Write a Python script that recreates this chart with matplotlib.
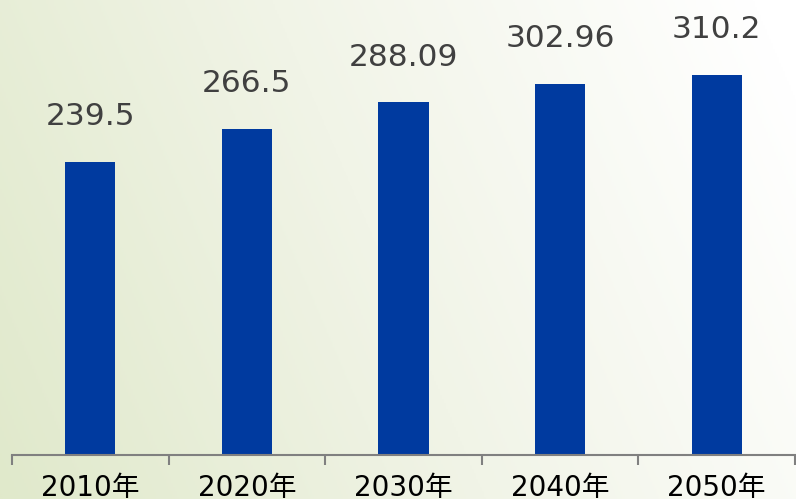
import numpy as np
import matplotlib
matplotlib.use("Agg")
import matplotlib.pyplot as plt
from matplotlib.colors import LinearSegmentedColormap

years = ["2010年", "2020年", "2030年", "2040年", "2050年"]
values = [239.5, 266.5, 288.09, 302.96, 310.2]
value_labels = ["239.5", "266.5", "288.09", "302.96", "310.2"]

fig = plt.figure(figsize=(7.96, 4.99), dpi=100)

# background gradient (greenish at left -> white at top right)
bg = fig.add_axes([0, 0, 1, 1], zorder=0)
u = np.linspace(0, 1, 400)
v = np.linspace(1, 0, 250)
U, V = np.meshgrid(u, v)
t = np.clip(0.82 * U + 0.22 * V, 0, 1)
cmap = LinearSegmentedColormap.from_list("bg", ["#e0e9cb", "#f1f4e7", "#ffffff"])
bg.imshow(t, cmap=cmap, aspect="auto", extent=[0, 1, 0, 1], vmin=0, vmax=1)
bg.axis("off")

ax = fig.add_axes([12 / 796, 44 / 499, 783 / 796, 455 / 499], zorder=1)
ax.patch.set_alpha(0)

x = np.arange(len(years))
ax.bar(x, values, width=0.32, color="#003a9f")
ax.set_xlim(-0.5, len(years) - 0.5)
ax.set_ylim(0, 371.7)

for xi, val, lab in zip(x, values, value_labels):
    ax.annotate(lab, (xi, val), xytext=(0, 26.5), textcoords="offset points",
                ha="center", va="baseline", fontsize=22.5, color="#404040",
                family=["DejaVu Sans"])

for s in ["top", "right", "left"]:
    ax.spines[s].set_visible(False)
ax.spines["bottom"].set_color("#808080")
ax.spines["bottom"].set_linewidth(1.5)
ax.set_yticks([])

ax.set_xticks(np.arange(-0.5, len(years), 1.0))
ax.set_xticklabels([])
ax.tick_params(axis="x", which="major", direction="out", length=7, width=1.5, color="#808080")
ax.set_xticks(x, minor=True)
ax.set_xticklabels(years, minor=True, fontsize=20, color="black",
                   family=["DejaVu Sans", "Noto Sans CJK JP"])
ax.tick_params(axis="x", which="minor", length=0, pad=14)

fig.savefig("out.png", dpi=100)
